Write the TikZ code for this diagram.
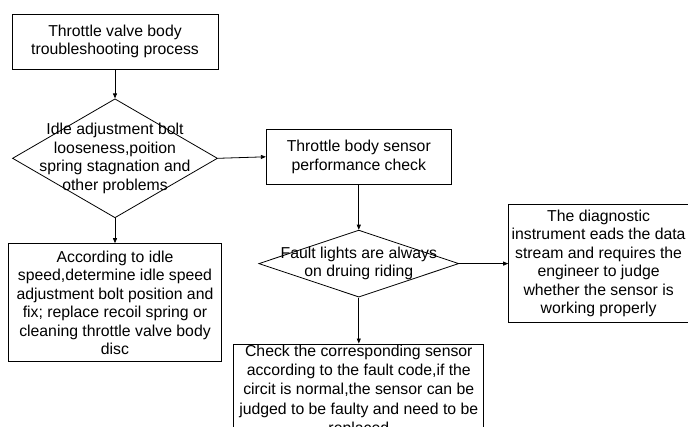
\documentclass[tikz,border=0pt]{standalone}
\usepackage{fontspec}
\setmainfont{Liberation Sans}
\usetikzlibrary{arrows.meta,positioning,shapes.geometric}

\begin{document}
\begin{tikzpicture}[x=1pt,y=1pt,
  box/.style={draw,line width=0.8pt,inner sep=0pt,align=center,
              font=\fontsize{15.8}{18.5}\selectfont},
  dia/.style={draw,diamond,line width=0.8pt,inner sep=0pt},
  txt/.style={align=center,inner sep=0pt,font=\fontsize{15.8}{18.5}\selectfont},
  ar/.style={-{Triangle[length=5pt,width=4pt]},line width=0.8pt},
  ln/.style={line width=0.8pt}]
\clip (0,0) rectangle (688,-426);
\node[box,minimum width=206pt,minimum height=55pt] (start) at (115,-41.5)
  {Throttle valve body\\troubleshooting process};
\node[dia,minimum width=205pt,minimum height=119pt,below=29pt of start] (idle) {};
\node[txt] (idletxt) at (idle) {Idle adjustment bolt\\looseness,poition\\spring stagnation and\\other problems};
\node[box,minimum width=213pt,minimum height=118pt,below=25pt of idle] (fix)
  {According to idle\\speed,determine idle speed\\adjustment bolt position and\\fix; replace recoil spring or\\cleaning throttle valve body\\disc};
\node[box,minimum width=185pt,minimum height=55pt,right=48pt of idle,yshift=1.5pt] (check)
  {Throttle body sensor\\performance check};
\node[dia,minimum width=200pt,minimum height=67pt,below=45pt of check] (lights) {};
\node[txt] (lightstxt) at (lights) {Fault lights are always\\on druing riding};
\node[box,minimum width=250pt,minimum height=94pt,below=46pt of lights,
      font=\fontsize{15.8}{19.3}\selectfont] (code)
  {Check the corresponding sensor\\according to the fault code,if the\\circit is normal,the sensor can be\\judged to be faulty and need to be\\replaced};
\node[box,minimum width=180pt,minimum height=118pt,right=49pt of lights] (reads)
  {The diagnostic\\instrument eads the data\\stream and requires the\\engineer to judge\\whether the sensor is\\working properly};
% connectors
\draw[ar] (start) -- (idle);
\draw[ar] (idle) -- (fix);
\draw[ar] (idle.east) -- (check.west);
\draw[ar] (check) -- (lights);
\draw[ar] (lights) -- (code);
\draw[ar] (lights.east) -- (reads.west);
\end{tikzpicture}
\end{document}
